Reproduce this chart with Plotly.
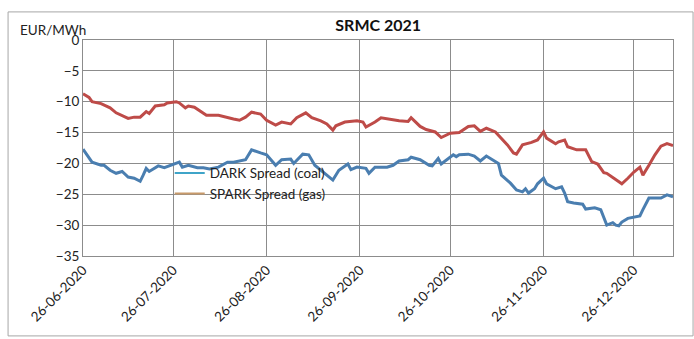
import plotly.graph_objects as go

# ---------------- data ----------------
spark_dates = ["2020-06-26","2020-06-28","2020-06-29","2020-07-02","2020-07-05","2020-07-07","2020-07-11","2020-07-13",
 "2020-07-15","2020-07-17","2020-07-18","2020-07-20","2020-07-23","2020-07-24","2020-07-27","2020-07-28","2020-07-30",
 "2020-07-31","2020-08-02","2020-08-04","2020-08-06","2020-08-10","2020-08-13","2020-08-15","2020-08-17","2020-08-19",
 "2020-08-21","2020-08-24","2020-08-26","2020-08-29","2020-08-31","2020-09-03","2020-09-05","2020-09-08","2020-09-10",
 "2020-09-13","2020-09-15","2020-09-17","2020-09-18","2020-09-21","2020-09-25","2020-09-27","2020-09-28","2020-10-01",
 "2020-10-03","2020-10-06","2020-10-09","2020-10-12","2020-10-13","2020-10-16","2020-10-18","2020-10-21","2020-10-23",
 "2020-10-26","2020-10-29","2020-11-01","2020-11-03","2020-11-05","2020-11-07","2020-11-10","2020-11-14","2020-11-16",
 "2020-11-17","2020-11-19","2020-11-22","2020-11-24","2020-11-26","2020-11-27","2020-11-30","2020-12-01","2020-12-03",
 "2020-12-04","2020-12-07","2020-12-10","2020-12-12","2020-12-14","2020-12-16","2020-12-17","2020-12-20","2020-12-22",
 "2020-12-24","2020-12-26","2020-12-28","2020-12-29","2020-12-31","2021-01-02","2021-01-04","2021-01-06","2021-01-08"]
spark_values = [-8.7,-9.3,-10.0,-10.3,-11.0,-11.8,-12.7,-12.5,
 -12.5,-11.6,-11.9,-10.7,-10.5,-10.2,-10.0,-10.2,-11.0,
 -10.7,-10.9,-11.5,-12.2,-12.2,-12.6,-12.8,-13.0,-12.5,
 -11.7,-12.0,-13.0,-13.8,-13.3,-13.6,-12.6,-11.8,-12.6,
 -13.1,-13.6,-14.6,-13.9,-13.3,-13.1,-13.3,-14.1,-13.3,
 -12.6,-12.9,-13.1,-13.2,-12.6,-14.0,-14.5,-14.9,-15.8,
 -15.1,-15.0,-14.0,-13.9,-14.8,-14.3,-14.9,-17.0,-18.3,
 -18.5,-17.0,-16.6,-16.2,-14.9,-15.9,-16.8,-16.5,-16.2,
 -17.3,-17.8,-17.8,-19.7,-20.1,-21.5,-21.6,-22.7,-23.3,
 -22.4,-21.4,-20.6,-21.9,-20.3,-18.6,-17.2,-16.8,-17.1]

dark_dates = ["2020-06-26","2020-06-28","2020-06-29","2020-07-02","2020-07-03","2020-07-05","2020-07-07","2020-07-09",
 "2020-07-11","2020-07-13","2020-07-15","2020-07-16","2020-07-17","2020-07-18","2020-07-21","2020-07-23","2020-07-26",
 "2020-07-28","2020-07-29","2020-07-31","2020-08-03","2020-08-05","2020-08-07","2020-08-10","2020-08-13","2020-08-15",
 "2020-08-19","2020-08-21","2020-08-24","2020-08-26","2020-08-29","2020-08-31","2020-09-03","2020-09-04","2020-09-07",
 "2020-09-09","2020-09-11","2020-09-13","2020-09-17","2020-09-19","2020-09-22","2020-09-23","2020-09-25","2020-09-28",
 "2020-09-29","2020-10-01","2020-10-05","2020-10-07","2020-10-09","2020-10-12","2020-10-13","2020-10-16","2020-10-19",
 "2020-10-20","2020-10-22","2020-10-23","2020-10-27","2020-10-28","2020-10-29","2020-11-01","2020-11-03","2020-11-05",
 "2020-11-07","2020-11-09","2020-11-11","2020-11-12","2020-11-15","2020-11-17","2020-11-19","2020-11-20","2020-11-21",
 "2020-11-23","2020-11-24","2020-11-26","2020-11-27","2020-11-30","2020-12-02","2020-12-03","2020-12-04","2020-12-06",
 "2020-12-09","2020-12-10","2020-12-13","2020-12-15","2020-12-16","2020-12-17","2020-12-19","2020-12-20","2020-12-21",
 "2020-12-22","2020-12-24","2020-12-26","2020-12-28","2020-12-29","2020-12-31","2021-01-02","2021-01-04","2021-01-06",
 "2021-01-08"]
dark_values = [-17.7,-19.0,-19.8,-20.3,-20.3,-21.1,-21.6,-21.3,
 -22.2,-22.4,-22.9,-21.9,-20.8,-21.3,-20.4,-20.7,-20.1,
 -19.8,-20.6,-20.3,-20.7,-20.7,-20.9,-20.6,-19.8,-19.8,
 -19.4,-17.8,-18.3,-18.6,-20.3,-19.4,-19.3,-20.0,-18.5,
 -18.6,-20.3,-21.1,-22.7,-21.1,-20.1,-21.0,-20.6,-20.8,
 -21.6,-20.6,-20.6,-20.3,-19.6,-19.4,-19.0,-19.4,-20.3,
 -20.4,-19.2,-20.1,-18.6,-18.9,-18.6,-18.5,-18.8,-19.6,
 -18.8,-19.4,-20.0,-21.9,-23.2,-24.3,-24.6,-24.1,-24.8,
 -24.1,-23.3,-22.4,-23.3,-24.1,-23.8,-24.8,-26.2,-26.4,
 -26.6,-27.4,-27.2,-27.5,-28.7,-30.0,-29.6,-30.0,-30.1,
 -29.5,-28.9,-28.7,-28.5,-27.5,-25.6,-25.6,-25.6,-25.1,
 -25.4]

tick_dates = ["2020-06-26","2020-07-26","2020-08-26","2020-09-26","2020-10-26","2020-11-26","2020-12-26"]
tick_labels = ["26-06-2020","26-07-2020","26-08-2020","26-09-2020","26-10-2020","26-11-2020","26-12-2020"]
y_ticks = [0, -5, -10, -15, -20, -25, -30, -35]

series_names = ["DARK Spread (coal)", "SPARK Spread (gas)"]
FONT = "Lato, 'Open Sans', sans-serif"

fig = go.Figure()
fig.add_trace(go.Scatter(x=spark_dates, y=spark_values, mode="lines",
                         line=dict(color="#be4b48", width=3), showlegend=False))
fig.add_trace(go.Scatter(x=dark_dates, y=dark_values, mode="lines",
                         line=dict(color="#4a7eb0", width=3), showlegend=False))
# legend entries (colours as shown in the legend)
fig.add_trace(go.Scatter(x=[None], y=[None], mode="lines", name=series_names[0],
                         line=dict(color="#3fa4c8", width=2)))
fig.add_trace(go.Scatter(x=[None], y=[None], mode="lines", name=series_names[1],
                         line=dict(color="#c89a6a", width=2)))

fig.update_layout(
    width=694, height=339,
    margin=dict(l=83, r=21, t=40, b=83),
    paper_bgcolor="white", plot_bgcolor="white",
    font=dict(family=FONT, size=13, color="#222"),
    title=dict(text="<b>SRMC 2021</b>", x=0.545, xanchor="center", y=0.925, yanchor="middle",
               font=dict(family=FONT, size=16, color="#111")),
    legend=dict(x=0.147, y=0.455, xanchor="left", yanchor="top", bgcolor="rgba(0,0,0,0)",
                font=dict(family=FONT, size=13.5, color="#222"), tracegroupgap=0, itemwidth=30),
    showlegend=True,
)
fig.update_xaxes(type="date", range=["2020-06-26", "2021-01-08"], tickvals=tick_dates, ticktext=tick_labels,
                 tickangle=-45, showgrid=True, gridcolor="#8c8c8c", gridwidth=1,
                 showline=True, linecolor="#8c8c8c", mirror=True, ticks="", tickfont=dict(size=13.5))
fig.update_yaxes(range=[-35, 0], tickvals=y_ticks, showgrid=True, gridcolor="#8c8c8c", gridwidth=1,
                 showline=True, linecolor="#8c8c8c", mirror=True, ticks="", zeroline=False,
                 tickfont=dict(size=13.5))

fig.add_annotation(text="EUR/MWh", xref="paper", yref="paper", x=-0.11, y=1.045,
                   xanchor="left", yanchor="middle", showarrow=False,
                   font=dict(family=FONT, size=13.5, color="#222"))
# outer chart border
fig.add_shape(type="rect", xref="paper", yref="paper", x0=-0.127, x1=1.034, y0=-0.37, y1=1.13,
              line=dict(color="#a6a6a6", width=1), layer="below")

fig.write_html("out.html")
